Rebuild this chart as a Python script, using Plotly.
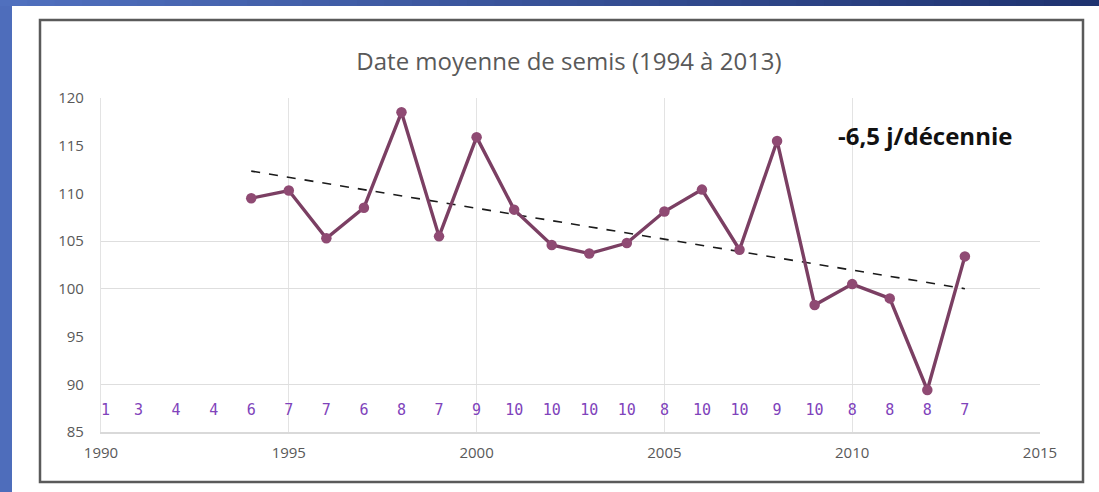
import numpy as np
import plotly.graph_objects as go

# ---- data ----
years = list(range(1994, 2014))
sowing_day = [109.5, 110.3, 105.3, 108.5, 118.5, 105.5, 115.9, 108.3, 104.6, 103.7,
              104.8, 108.1, 110.4, 104.1, 115.5, 98.3, 100.5, 99.0, 89.4, 103.4]
count_years = list(range(1990, 2014))
counts = [1, 3, 4, 4, 6, 7, 7, 6, 8, 7, 9, 10, 10, 10, 10, 8, 10, 10, 9, 10, 8, 8, 8, 7]
title = "Date moyenne de semis (1994 à 2013)"
trend_label = "-6,5 j/décennie"
x_ticks = [1990, 1995, 2000, 2005, 2010, 2015]
y_ticks = [85, 90, 95, 100, 105, 110, 115, 120]
y_grid = [90, 100, 105]

W, H = 1099, 492
L, R, T, B = 101, 1040, 98, 432  # plot area pixel bounds


def px(x):
    return (x - L) / (R - L)


def py(y):
    return (B - y) / (B - T)


# linear trend (Excel-style least squares)
slope, intercept = np.polyfit(years, sowing_day, 1)
trend_x = [years[0], years[-1]]
trend_y = [slope * x + intercept for x in trend_x]

fig = go.Figure()

fig.add_trace(go.Scatter(
    x=trend_x, y=trend_y, mode="lines",
    line=dict(color="#1a1a1a", width=1.6, dash="dash"),
    hoverinfo="skip", showlegend=False,
))

fig.add_trace(go.Scatter(
    x=years, y=sowing_day, mode="lines+markers",
    line=dict(color="#7b3f63", width=3.4),
    marker=dict(color="#8f4a73", size=10.5),
    showlegend=False,
))

positions = ["middle center"] * len(count_years)
positions[0] = "middle right"
fig.add_trace(go.Scatter(
    x=count_years, y=[87.2] * len(count_years), mode="text",
    text=[str(c) for c in counts],
    textposition=positions,
    textfont=dict(family="DejaVu Sans Mono", size=15, color="#8043bb"),
    showlegend=False, hoverinfo="skip", cliponaxis=False,
))

# background shapes
shapes = []
# chart border
shapes.append(dict(type="rect", xref="paper", yref="paper",
                   x0=px(40), x1=px(1083), y0=py(482), y1=py(20),
                   line=dict(color="#5a5a5a", width=2.5), fillcolor="rgba(0,0,0,0)", layer="below"))
# left blue band
shapes.append(dict(type="rect", xref="paper", yref="paper",
                   x0=px(0), x1=px(12), y0=py(H), y1=py(0),
                   line=dict(width=0), fillcolor="#4e6dbb", layer="below"))
# top gradient band
c0 = np.array([0x50, 0x70, 0xbe])
c1 = np.array([0x1f, 0x33, 0x70])
n = 40
for i in range(n):
    t = i / (n - 1)
    c = (c0 * (1 - t) + c1 * t).astype(int)
    shapes.append(dict(type="rect", xref="paper", yref="paper",
                       x0=px(W * i / n), x1=px(W * (i + 1) / n + 1), y0=py(6), y1=py(0),
                       line=dict(width=0), fillcolor="rgb(%d,%d,%d)" % tuple(c), layer="below"))

tick_font = dict(family="Open Sans", size=15, color="#595959")

fig.update_layout(
    width=W, height=H,
    margin=dict(l=L, r=W - R, t=T, b=H - B, autoexpand=False),
    paper_bgcolor="white", plot_bgcolor="white",
    shapes=shapes,
    title=dict(text=title, x=px(569), xref="paper", xanchor="center",
               y=1 - 62 / H, yanchor="middle",
               font=dict(family="Open Sans", size=24, color="#595959")),
    xaxis=dict(range=[1990, 2015], tickvals=x_ticks, showgrid=True,
               gridcolor="#e3e3e3", gridwidth=1.2, zeroline=False,
               showline=True, linecolor="#d9d9d9", linewidth=1.5,
               ticks="", tickfont=tick_font, ticklabelstandoff=6),
    yaxis=dict(range=[85, 120], tickvals=y_ticks, showgrid=False, zeroline=False,
               showline=True, linecolor="#e3e3e3", linewidth=1.2,
               ticks="", tickfont=tick_font, ticklabelstandoff=13),
    yaxis2=dict(range=[85, 120], overlaying="y", tickvals=y_grid, showgrid=True,
                gridcolor="#dedede", gridwidth=1.2, showticklabels=False,
                zeroline=False, showline=False),
    annotations=[dict(text="<b>" + trend_label + "</b>", x=px(925), y=py(135),
                      xref="paper", yref="paper", xanchor="center", yanchor="middle",
                      showarrow=False,
                      font=dict(family="Open Sans", size=24, color="#111111"))],
)
# invisible trace to activate yaxis2 gridlines
fig.add_trace(go.Scatter(x=[1990], y=[85], yaxis="y2", mode="markers",
                         marker=dict(opacity=0), showlegend=False, hoverinfo="skip"))

fig.write_html("out.html", config={"displayModeBar": False},
               post_script="document.body.style.margin='0';")
